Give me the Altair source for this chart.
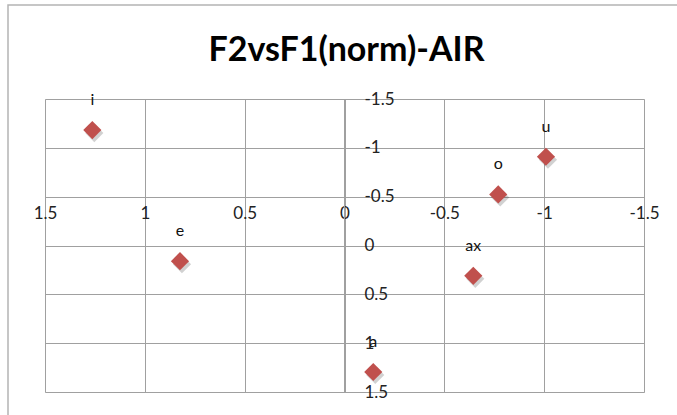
import altair as alt
import pandas as pd

# Normalised formant values per vowel (F2 on x, F1 on y)
vowels = ["i", "e", "a", "ax", "o", "u"]
f2_norm = [1.263, 0.824, -0.144, -0.645, -0.770, -1.009]
f1_norm = [-1.182, 0.160, 1.295, 0.311, -0.523, -0.909]
tick_values = [-1.5, -1, -0.5, 0, 0.5, 1, 1.5]

df = pd.DataFrame({"vowel": vowels, "F2": f2_norm, "F1": f1_norm})

FONT = "Lato"
GRID = "#a0a0a0"
RED = "#C0504D"
W, H = 599, 293

x_scale = alt.Scale(domain=[-1.5, 1.5], reverse=True, nice=False, zero=False)
y_scale = alt.Scale(domain=[-1.5, 1.5], reverse=True, nice=False, zero=False)

# horizontal axis crosses at F1 = -0.5, vertical axis at F2 = 0
x_axis = alt.Axis(
    values=tick_values, orient="bottom", offset=-195, title=None,
    grid=True, gridColor=GRID, gridWidth=1, domainColor=GRID, domainWidth=1,
    ticks=False, tickSize=0, labelPadding=8, labelFont=FONT, labelFontSize=17,
    labelColor="#222222", labelExpr="toString(datum.value)",
    labelFlush=False, labelOverlap=False,
)
y_axis = alt.Axis(
    values=tick_values, orient="right", offset=-300, title=None,
    grid=True, gridColor=GRID, gridWidth=1, domainColor=GRID, domainWidth=1,
    ticks=False, tickSize=0, labelPadding=20, labelFont=FONT, labelFontSize=17,
    labelColor="#222222", labelExpr="toString(datum.value)",
    labelFlush=False, labelOverlap=False, labelBaseline="middle",
)

base = alt.Chart(df)

shadow = base.mark_point(
    shape="diamond", filled=True, size=330, color="#000000", opacity=0.18,
    xOffset=2, yOffset=3,
).encode(
    x=alt.X("F2:Q", scale=x_scale, axis=x_axis),
    y=alt.Y("F1:Q", scale=y_scale, axis=y_axis),
)

points = base.mark_point(
    shape="diamond", filled=True, size=330, color=RED, opacity=1,
).encode(x="F2:Q", y="F1:Q")

labels = base.mark_text(
    dy=-30, font=FONT, fontSize=16, color="#111111",
).encode(x="F2:Q", y="F1:Q", text="vowel:N")

# light frame around the whole chart
frame = alt.Chart(pd.DataFrame({"k": [0]})).mark_rect(
    fill="transparent", stroke="#b4b4b4", strokeWidth=1.5,
).encode(
    x=alt.value(-37), x2=alt.value(W + 60),
    y=alt.value(-94), y2=alt.value(H + 60),
)

chart = alt.layer(frame, shadow, points, labels).properties(
    width=W, height=H,
    title=alt.TitleParams(
        "F2vsF1(norm)-AIR", font=FONT, fontSize=34, fontWeight="bold",
        color="#000000", anchor="middle", offset=-64, dx=2,
    ),
    autosize=alt.AutoSizeParams(type="none"),
    padding={"left": 45, "top": 99, "right": 33, "bottom": 23},
).configure_view(strokeWidth=0).configure(background="white")

chart.save("out.html", embed_options={"renderer": "svg", "actions": False})
